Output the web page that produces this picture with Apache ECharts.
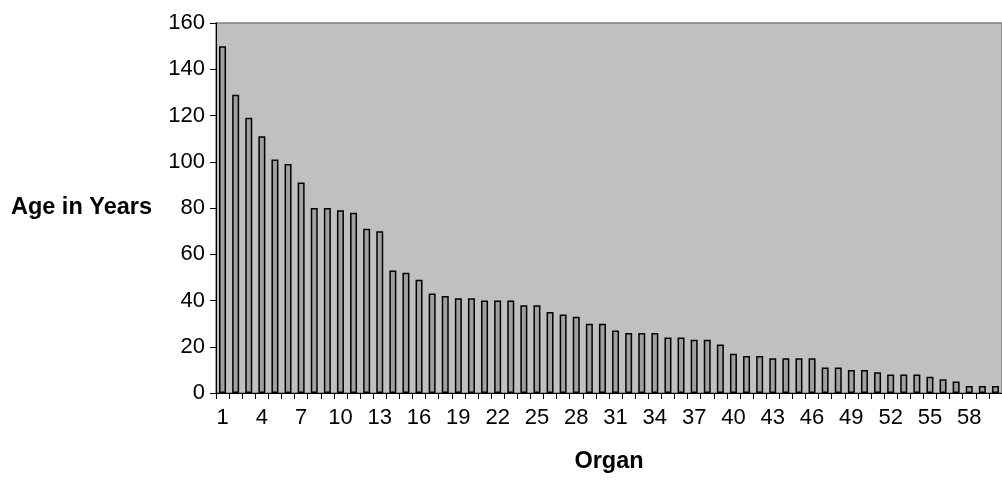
<!DOCTYPE html>
<html>
<head>
<meta charset="utf-8">
<script src="https://cdn.jsdelivr.net/npm/echarts@6/dist/echarts.min.js"></script>
<style>
  html, body { margin: 0; padding: 0; background: #ffffff; }
  #chart { width: 1002px; height: 480px; }
</style>
</head>
<body>
<div id="chart"></div>
<script>
// Organ numbers along the x axis
const organs = [];
for (let i = 1; i <= 60; i++) organs.push(String(i));

// Age of each organ, in years
const ages = [
  150, 129, 119, 111, 101, 99, 91, 80, 80, 79,
  78, 71, 70, 53, 52, 49, 43, 42, 41, 41,
  40, 40, 40, 38, 38, 35, 34, 33, 30, 30,
  27, 26, 26, 26, 24, 24, 23, 23, 21, 17,
  16, 16, 15, 15, 15, 15, 11, 11, 10, 10,
  9, 8, 8, 8, 7, 6, 5, 3, 3, 3
];

const yTitle = 'Age in Years';
const xTitle = 'Organ';

const chart = echarts.init(document.getElementById('chart'), null, { renderer: 'canvas' });

const labelFont = { fontFamily: 'Liberation Sans, Arial, sans-serif', fontSize: 22, color: '#000' };
const titleFont = { fontFamily: 'Liberation Sans, Arial, sans-serif', fontSize: 23.5, fontWeight: 'bold', color: '#000' };

chart.setOption({
  animation: false,
  backgroundColor: '#ffffff',
  grid: {
    left: 216, right: 0, top: 23, bottom: 87,
    show: true,
    backgroundColor: '#c0c0c0',
    borderColor: '#808080',
    borderWidth: 1.5
  },
  xAxis: {
    type: 'category',
    data: organs,
    boundaryGap: true,
    name: xTitle,
    nameLocation: 'middle',
    nameGap: 57,
    nameTextStyle: titleFont,
    axisLine: { show: true, lineStyle: { color: '#000', width: 1 } },
    axisTick: { show: true, interval: 0, length: 6, lineStyle: { color: '#000' } },
    axisLabel: Object.assign({ interval: 2, margin: 14 }, labelFont),
    splitLine: { show: false }
  },
  yAxis: {
    type: 'value',
    min: 0,
    max: 160,
    interval: 20,
    name: yTitle,
    nameLocation: 'middle',
    nameRotate: 0,
    nameGap: 64,
    nameTextStyle: titleFont,
    axisLine: { show: true, lineStyle: { color: '#000', width: 1 } },
    axisTick: { show: true, length: 6, lineStyle: { color: '#000' } },
    axisLabel: Object.assign({ margin: 11 }, labelFont),
    splitLine: { show: false }
  },
  series: [{
    type: 'bar',
    data: ages,
    barWidth: 7,
    itemStyle: {
      color: '#a0a0a0',
      borderColor: '#000000',
      borderWidth: 1.5
    }
  }]
});
</script>
</body>
</html>
